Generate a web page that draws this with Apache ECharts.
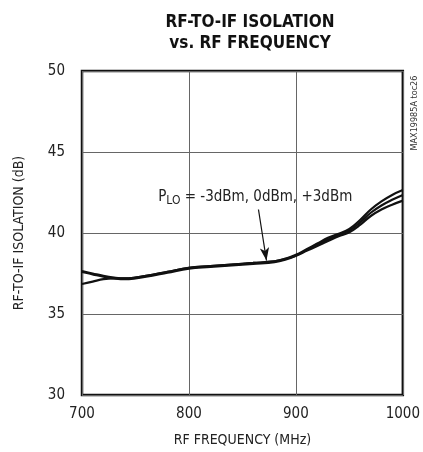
<!DOCTYPE html>
<html><head><meta charset="utf-8">
<script src="https://cdn.jsdelivr.net/npm/echarts@6/dist/echarts.min.js"></script>
<style>html,body{margin:0;padding:0;background:#fff}#c{width:423px;height:452px}</style>
</head><body><div id="c"></div>
<script>
const freq = [700,710,720,730,740,750,760,780,800,820,840,860,880,890,900,910,920,930,940,950,960,970,980,990,1000];
const isoA = [37.65,37.5,37.35,37.25,37.2,37.25,37.35,37.6,37.85,37.95,38.05,38.15,38.25,38.4,38.65,39.0,39.35,39.7,39.95,40.25,40.8,41.45,41.95,42.35,42.65];
const isoB = [37.6,37.45,37.3,37.2,37.15,37.2,37.3,37.55,37.8,37.9,38.0,38.1,38.2,38.35,38.6,38.95,39.3,39.6,39.9,40.15,40.65,41.25,41.7,42.05,42.35];
const isoC = [36.85,37.0,37.15,37.2,37.2,37.25,37.35,37.6,37.85,37.95,38.05,38.15,38.25,38.4,38.6,38.9,39.2,39.5,39.8,40.05,40.5,41.05,41.45,41.75,42.0];
const xTicks = [700,800,900,1000];
const yTicks = [30,35,40,45,50];
const arrowFrom = [865,41.45];
const arrowTo = [872.5,38.3];
const labelAt = [862,42.2];

const FONT = "'Liberation Sans Narrow','DejaVu Sans Condensed','Roboto Condensed',Roboto,sans-serif";
const chart = echarts.init(document.getElementById('c'));
const pair = a => freq.map((f,i)=>[f,a[i]]);
const lineSeries = (name,data) => ({name,type:'line',data:pair(data),smooth:0.4,showSymbol:false,
  lineStyle:{color:'#111',width:2.2},z:5});
chart.setOption({
  animation:false,
  title:{text:'RF-TO-IF ISOLATION\nvs. RF FREQUENCY',left:245,textAlign:'center',top:7,
    textStyle:{fontFamily:FONT,fontWeight:'bold',fontSize:17,lineHeight:21,color:'#111'}},
  grid:{left:82,right:14,top:71,bottom:56,show:true,borderColor:'#111',borderWidth:2.5},
  xAxis:{type:'value',min:700,max:1000,interval:100,
    name:'RF FREQUENCY (MHz)',nameLocation:'middle',nameGap:38,
    nameTextStyle:{fontFamily:FONT,fontSize:14,color:'#222'},
    axisLine:{show:false},axisTick:{show:false},
    axisLabel:{fontFamily:FONT,fontSize:15,color:'#222',margin:12,
      formatter:v=>xTicks.includes(v)?String(v):''},
    splitLine:{show:true,lineStyle:{color:'#666',width:1}}},
  yAxis:{type:'value',min:30,max:50,interval:5,
    name:'RF-TO-IF ISOLATION (dB)',nameLocation:'middle',nameGap:56,
    nameTextStyle:{fontFamily:FONT,fontSize:14,color:'#222'},
    axisLine:{show:false},axisTick:{show:false},
    axisLabel:{fontFamily:FONT,fontSize:15,color:'#222',margin:17,
      formatter:v=>yTicks.includes(v)?String(v):''},
    splitLine:{show:true,lineStyle:{color:'#666',width:1}}},
  series:[
    lineSeries('-3dBm',isoA),
    lineSeries('0dBm',isoB),
    lineSeries('+3dBm',isoC),
    {type:'line',data:[],silent:true,
      markLine:{silent:true,symbol:['none','arrow'],symbolSize:[7,13],
        lineStyle:{color:'#111',width:1.2,type:'solid'},label:{show:false},
        data:[[{coord:arrowFrom},{coord:arrowTo}]]}}
  ]
});
const p = chart.convertToPixel({xAxisIndex:0,yAxisIndex:0},labelAt);
chart.setOption({graphic:[
  {type:'text',x:p[0],y:p[1],z:10,style:{
    text:'{p|P}{s|LO}{p| = -3dBm, 0dBm, +3dBm}',
    align:'center',verticalAlign:'middle',
    rich:{p:{fontFamily:FONT,fontSize:15,fill:'#222'},
          s:{fontFamily:FONT,fontSize:12,fill:'#222',padding:[7,0,0,0]}}}},
  {type:'text',x:415,y:113,rotation:Math.PI/2,style:{
    text:'MAX19985A toc26',align:'center',verticalAlign:'middle',
    fontFamily:FONT,fontSize:9,fill:'#333'}}
]});
</script></body></html>
